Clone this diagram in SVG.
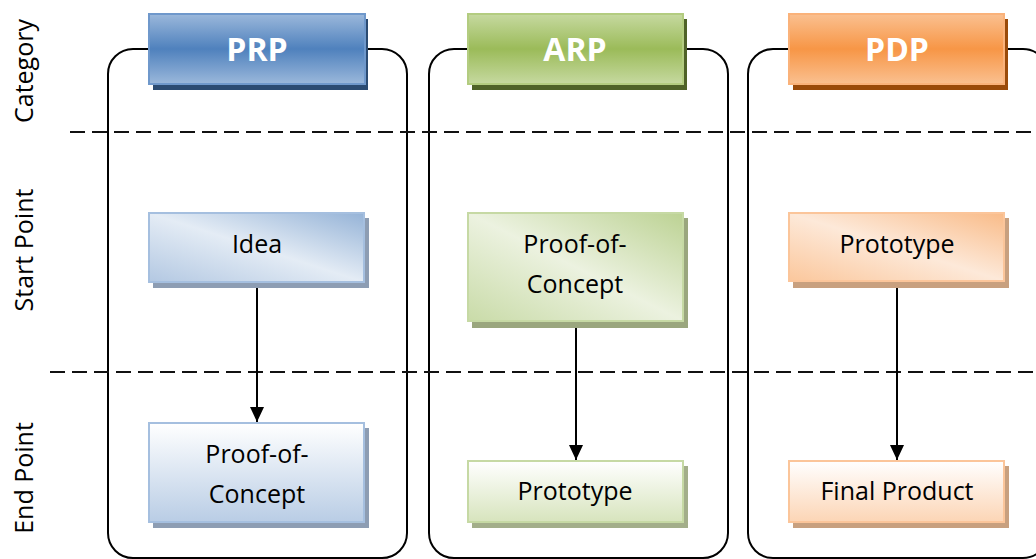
<svg xmlns="http://www.w3.org/2000/svg" width="1036" height="559" viewBox="0 0 1036 559">
<style>
.frame{fill:none;stroke:#000;stroke-width:2}
.dash{stroke:#111;stroke-width:2;stroke-dasharray:15 7;fill:none}
.hdr{font-family:"Open Sans","Liberation Sans",sans-serif;font-weight:bold;font-size:32px;fill:#fff;text-anchor:middle}
.lbl{font-family:"Open Sans","Liberation Sans",sans-serif;font-size:25px;fill:#000;text-anchor:middle}
.side{font-family:"Open Sans","Liberation Sans",sans-serif;font-size:25px;fill:#000;text-anchor:middle}
.conn{stroke:#000;stroke-width:2;fill:none}
</style>
<defs>
<linearGradient id="hB" x1="0" y1="0" x2="0" y2="1"><stop offset="0" stop-color="#9bb8db"/><stop offset="0.5" stop-color="#4f81bd"/><stop offset="1" stop-color="#9bb8db"/></linearGradient>
<linearGradient id="hG" x1="0" y1="0" x2="0" y2="1"><stop offset="0" stop-color="#c6d9a0"/><stop offset="0.5" stop-color="#9bbb59"/><stop offset="1" stop-color="#c6d9a0"/></linearGradient>
<linearGradient id="hO" x1="0" y1="0" x2="0" y2="1"><stop offset="0" stop-color="#fac090"/><stop offset="0.5" stop-color="#f79646"/><stop offset="1" stop-color="#fac090"/></linearGradient>
<linearGradient id="sB" x1="1" y1="0" x2="0" y2="1"><stop offset="0" stop-color="#95b3d7"/><stop offset="0.5" stop-color="#e4ecf5"/><stop offset="1" stop-color="#b3c8e2"/></linearGradient>
<linearGradient id="sG" x1="1" y1="0" x2="0" y2="1"><stop offset="0" stop-color="#bcd293"/><stop offset="0.5" stop-color="#ecf2e0"/><stop offset="1" stop-color="#c9dba8"/></linearGradient>
<linearGradient id="sO" x1="1" y1="0" x2="0" y2="1"><stop offset="0" stop-color="#f9bb88"/><stop offset="0.5" stop-color="#fde9d9"/><stop offset="1" stop-color="#fbc79c"/></linearGradient>
<linearGradient id="eB" x1="0" y1="0" x2="0" y2="1"><stop offset="0" stop-color="#ffffff"/><stop offset="1" stop-color="#b9cde5"/></linearGradient>
<linearGradient id="eG" x1="0" y1="0" x2="0" y2="1"><stop offset="0" stop-color="#ffffff"/><stop offset="1" stop-color="#d7e4bd"/></linearGradient>
<linearGradient id="eO" x1="0" y1="0" x2="0" y2="1"><stop offset="0" stop-color="#ffffff"/><stop offset="1" stop-color="#fcd5b5"/></linearGradient>
<marker id="arr" markerWidth="15" markerHeight="16" refX="15" refY="7" orient="auto" markerUnits="userSpaceOnUse"><path d="M0,0 L15,7 L0,14 Z" fill="#000"/></marker>
</defs>

<g id="rowlabels">
<text class="side" transform="translate(33,71) rotate(-90)">Category</text>
<text class="side" transform="translate(33,250) rotate(-90)">Start Point</text>
<text class="side" transform="translate(33,478) rotate(-90)">End Point</text>
</g>

<g id="frames">
<rect class="frame" x="108" y="49" width="299" height="509" rx="25"/>
<rect class="frame" x="429" y="49" width="299" height="509" rx="25"/>
<rect class="frame" x="748" y="49" width="300" height="509" rx="25"/>
</g>

<g id="dividers">
<line class="dash" x1="70" y1="132" x2="1036" y2="132"/>
<line class="dash" x1="50" y1="372" x2="1036" y2="372"/>
</g>

<g id="hdr-prp">
<rect x="153" y="19" width="215" height="71" fill="#2b4b72"/>
<rect x="149" y="14" width="216" height="70" fill="url(#hB)" stroke="#6f98cb" stroke-width="2"/>
<text class="hdr" x="257" y="61">PRP</text>
</g>
<g id="hdr-arp">
<rect x="472" y="19" width="215" height="71" fill="#4f6228"/>
<rect x="468" y="14" width="215" height="70" fill="url(#hG)" stroke="#b3cc80" stroke-width="2"/>
<text class="hdr" x="575" y="61">ARP</text>
</g>
<g id="hdr-pdp">
<rect x="793" y="19" width="215" height="71" fill="#9a4b0a"/>
<rect x="789" y="14" width="215" height="70" fill="url(#hO)" stroke="#fab27a" stroke-width="2"/>
<text class="hdr" x="897" y="61">PDP</text>
</g>

<g id="connectors">
<line class="conn" x1="257" y1="282" x2="257" y2="422" marker-end="url(#arr)"/>
<line class="conn" x1="576" y1="321" x2="576" y2="460" marker-end="url(#arr)"/>
<line class="conn" x1="897" y1="281" x2="897" y2="460" marker-end="url(#arr)"/>
</g>

<g id="prp-start">
<rect x="153" y="218" width="216" height="70" fill="#8d9db3"/>
<rect x="149" y="213" width="215" height="69" fill="url(#sB)" stroke="#a5bfdf" stroke-width="2"/>
<text class="lbl" x="257" y="253">Idea</text>
</g>
<g id="prp-end">
<rect x="153" y="428" width="216" height="100" fill="#8d9db3"/>
<rect x="149" y="423" width="215" height="99" fill="url(#eB)" stroke="#a5bfdf" stroke-width="2"/>
<text class="lbl" x="257" y="463">Proof-of-</text>
<text class="lbl" x="257" y="503">Concept</text>
</g>

<g id="arp-start">
<rect x="472" y="218" width="216" height="110" fill="#9aa67e"/>
<rect x="468" y="213" width="215" height="108" fill="url(#sG)" stroke="#c6d9a4" stroke-width="2"/>
<text class="lbl" x="575" y="253">Proof-of-</text>
<text class="lbl" x="575" y="293">Concept</text>
</g>
<g id="arp-end">
<rect x="472" y="466" width="216" height="62" fill="#a3ae8a"/>
<rect x="468" y="461" width="215" height="61" fill="url(#eG)" stroke="#c6d9a4" stroke-width="2"/>
<text class="lbl" x="575" y="500">Prototype</text>
</g>

<g id="pdp-start">
<rect x="793" y="218" width="216" height="70" fill="#c8a07f"/>
<rect x="789" y="213" width="215" height="68" fill="url(#sO)" stroke="#fbc59a" stroke-width="2"/>
<text class="lbl" x="897" y="253">Prototype</text>
</g>
<g id="pdp-end">
<rect x="793" y="466" width="216" height="62" fill="#c8a07f"/>
<rect x="789" y="461" width="215" height="61" fill="url(#eO)" stroke="#fbc59a" stroke-width="2"/>
<text class="lbl" x="897" y="500">Final Product</text>
</g>
</svg>
